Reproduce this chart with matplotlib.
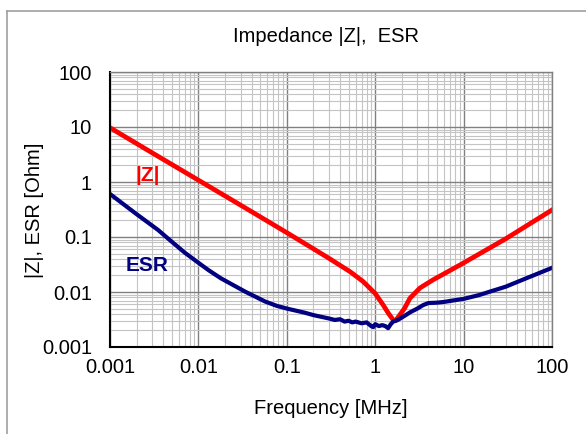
import numpy as np
import matplotlib
matplotlib.use("Agg")
import matplotlib.pyplot as plt
from matplotlib.lines import Line2D
from matplotlib.ticker import FixedLocator, LogLocator, NullFormatter

plt.rcParams['font.family'] = ['Liberation Sans', 'DejaVu Sans']

# |Z| curve (MHz, Ohm)
freq_z = [0.001, 0.003, 0.01, 0.03, 0.1, 0.2, 0.3, 0.52, 0.73, 1.0, 1.24,
          1.41, 1.6, 1.7, 1.82, 2.14, 2.47, 3.2, 4.5, 9.1, 30, 100]
imp_z = [9.7, 3.39, 1.08, 0.38, 0.12, 0.061, 0.041, 0.0234, 0.0155, 0.0094,
         0.0057, 0.0041, 0.0031, 0.0030, 0.0035, 0.0050, 0.0077, 0.0118,
         0.0166, 0.031, 0.093, 0.31]

# ESR curve
freq_esr = [0.001, 0.002, 0.0035, 0.005, 0.007, 0.01, 0.013, 0.018, 0.034,
            0.057, 0.077, 0.1, 0.16, 0.2, 0.3, 0.35, 0.4, 0.45, 0.5, 0.55,
            0.6, 0.7, 0.8, 0.9, 0.95, 1.0, 1.1, 1.2, 1.3, 1.4, 1.5, 1.6, 1.8,
            2.1, 2.5, 3.0, 3.5, 4.0, 5.0, 6.0, 8.0, 10, 15, 20, 30, 50, 100]
esr = [0.605, 0.26, 0.134, 0.082, 0.052, 0.034, 0.025, 0.0177, 0.0101,
       0.0067, 0.0056, 0.0050, 0.0042, 0.0038, 0.0033, 0.0031, 0.0032, 0.0029,
       0.0030, 0.0028, 0.0029, 0.0027, 0.0028, 0.0024, 0.0023, 0.0026, 0.0024,
       0.0025, 0.0024, 0.0022, 0.0026, 0.0029, 0.0031, 0.0036, 0.0043, 0.0050,
       0.0058, 0.0063, 0.0064, 0.0066, 0.0071, 0.0075, 0.0088, 0.0102, 0.0125,
       0.0175, 0.0275]

tick_vals = [0.001, 0.01, 0.1, 1, 10, 100]
tick_labels = ["0.001", "0.01", "0.1", "1", "10", "100"]

fig = plt.figure(figsize=(5.86, 4.34), dpi=100)
W, H = 586.0, 434.0
ax = fig.add_axes([110 / W, 1 - 347 / H, 442 / W, 275 / H])

ax.set_xscale("log")
ax.set_yscale("log")
ax.set_xlim(0.001, 100)
ax.set_ylim(0.001, 100)

# grid: light minor lines, darker major lines
ax.xaxis.set_minor_locator(LogLocator(base=10, subs=np.arange(2, 10), numticks=20))
ax.yaxis.set_minor_locator(LogLocator(base=10, subs=np.arange(2, 10), numticks=20))
ax.xaxis.set_minor_formatter(NullFormatter())
ax.yaxis.set_minor_formatter(NullFormatter())
ax.grid(True, which="minor", color="#c4c4c4", lw=0.8)
ax.grid(True, which="major", color="#808080", lw=1.0)
ax.set_axisbelow(True)

ax.plot(freq_z, imp_z, color="#ff0000", lw=3.4, solid_joinstyle="round")
ax.plot(freq_esr, esr, color="#000080", lw=3.0, solid_joinstyle="round")

ax.text(0.00266, 1.34, "|Z|", color="#ff0000", fontsize=15, fontweight="bold",
        ha="center", va="center")
ax.text(0.00266, 0.030, "ESR", color="#000080", fontsize=15, fontweight="bold",
        ha="center", va="center")

ax.xaxis.set_major_locator(FixedLocator(tick_vals))
ax.yaxis.set_major_locator(FixedLocator(tick_vals))
ax.set_xticklabels(tick_labels)
ax.set_yticklabels(tick_labels)
ax.tick_params(which="both", length=0, labelsize=14.5)
ax.tick_params(axis="x", pad=8)
ax.tick_params(axis="y", pad=13)

for s in ["left", "bottom"]:
    ax.spines[s].set_color("black")
    ax.spines[s].set_linewidth(1.5)
for s in ["top", "right"]:
    ax.spines[s].set_color("#808080")
    ax.spines[s].set_linewidth(1.0)

fig.text(326 / W, 1 - 37 / H, "Impedance |Z|,  ESR", fontsize=14.5,
         ha="center", va="center")
fig.text(331 / W, 1 - 409 / H, "Frequency [MHz]", fontsize=14.5,
         ha="center", va="center")
fig.text(34 / W, 1 - 210 / H, "|Z|, ESR [Ohm]", fontsize=14.5,
         ha="center", va="center", rotation=90)

# chart frame (cut off on right and bottom)
fig.add_artist(Line2D([7 / W, 7 / W], [0, 1 - 11 / H], color="#a0a0a0", lw=1.2))
fig.add_artist(Line2D([7 / W, 1], [1 - 11 / H, 1 - 11 / H], color="#a0a0a0", lw=1.2))

fig.savefig("out.png", dpi=100)
